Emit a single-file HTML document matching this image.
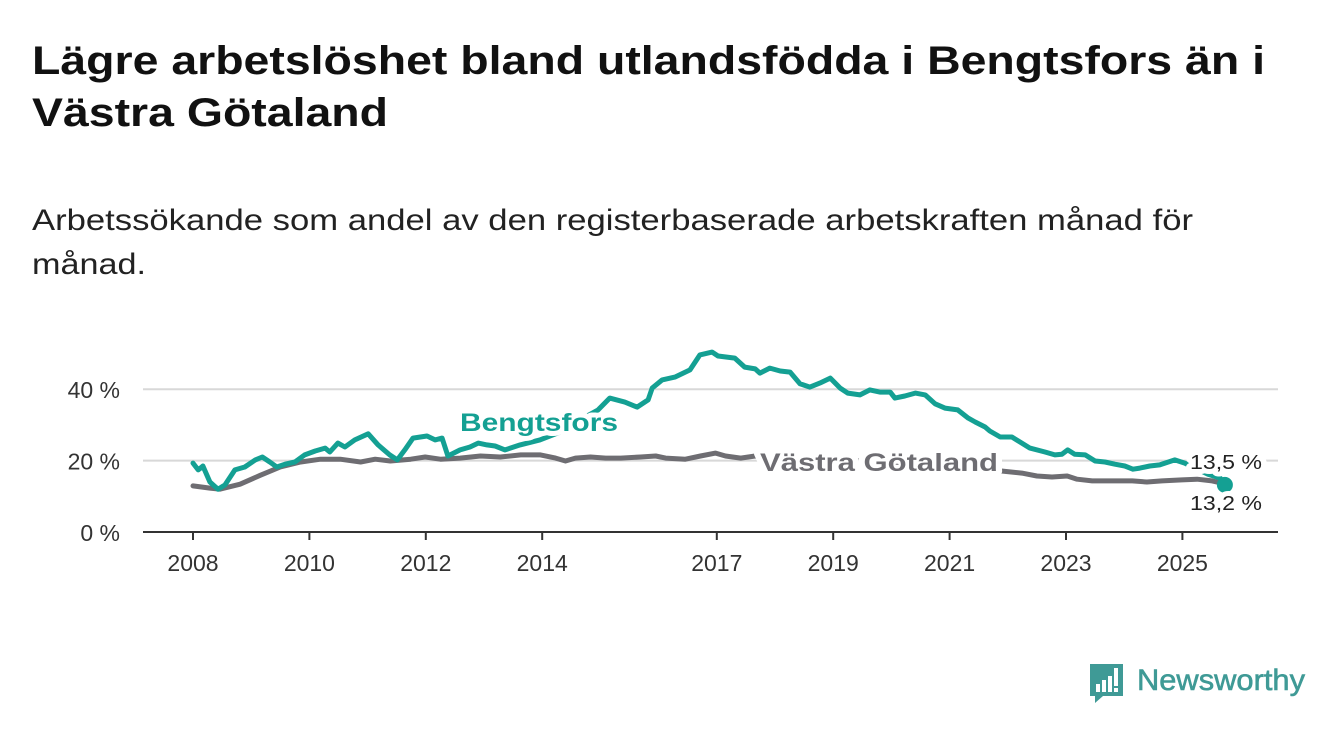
<!DOCTYPE html>
<html><head><meta charset="utf-8"><style>
html,body{margin:0;padding:0;background:#fff;}
svg{display:block;font-family:"Liberation Sans","DejaVu Sans",sans-serif;}
</style></head><body>
<svg id="chart" width="1340" height="734" viewBox="0 0 1340 734">
<text x="32" y="74" font-size="40" font-weight="bold" fill="#111" textLength="1233" lengthAdjust="spacingAndGlyphs">Lägre arbetslöshet bland utlandsfödda i Bengtsfors än i</text>
<text x="32" y="126" font-size="40" font-weight="bold" fill="#111" textLength="356" lengthAdjust="spacingAndGlyphs">Västra Götaland</text>
<text x="32" y="230" font-size="30" fill="#222" textLength="1161" lengthAdjust="spacingAndGlyphs">Arbetssökande som andel av den registerbaserade arbetskraften månad för</text>
<text x="32" y="274" font-size="30" fill="#222" textLength="114" lengthAdjust="spacingAndGlyphs">månad.</text>
<g id="grid"></g><g id="axes"></g><g id="series"></g><g id="labels"></g>
<g>
<path d="M1090 664 h33 v32 h-20 l-8 7 v-7 h-5 z" fill="#3f9a96"/>
<rect x="1096" y="684" width="4" height="8" fill="#fff"/><rect x="1102" y="680" width="4" height="12" fill="#fff"/><rect x="1108" y="676" width="4" height="16" fill="#fff"/><rect x="1114" y="668" width="4" height="18" fill="#fff"/><rect x="1114" y="688" width="4" height="4" fill="#fff"/>
<text x="1137" y="690" font-size="30" fill="#3f9a96" stroke="#3f9a96" stroke-width="0.6" textLength="168" lengthAdjust="spacingAndGlyphs">Newsworthy</text>
</g>
</svg>
<script>
const bDates=[2008.00,2008.09,2008.17,2008.29,2008.43,2008.55,2008.72,2008.89,2009.07,2009.19,2009.32,2009.44,2009.58,2009.75,2009.92,2010.10,2010.27,2010.35,2010.49,2010.61,2010.78,2011.01,2011.18,2011.38,2011.51,2011.64,2011.78,2012.02,2012.16,2012.28,2012.38,2012.59,2012.76,2012.90,2013.05,2013.19,2013.36,2013.62,2013.96,2014.31,2014.65,2014.96,2015.16,2015.42,2015.63,2015.82,2015.89,2016.06,2016.28,2016.54,2016.71,2016.92,2017.02,2017.31,2017.48,2017.66,2017.74,2017.91,2018.09,2018.26,2018.43,2018.60,2018.77,2018.95,2019.12,2019.25,2019.46,2019.63,2019.80,2019.98,2020.06,2020.23,2020.41,2020.58,2020.75,2020.92,2021.14,2021.32,2021.44,2021.61,2021.69,2021.87,2022.07,2022.21,2022.38,2022.64,2022.81,2022.93,2023.03,2023.15,2023.33,2023.50,2023.67,2023.84,2024.01,2024.15,2024.27,2024.44,2024.61,2024.87,2025.04,2025.22,2025.44,2025.65,2025.73];
const bengtsfors=[19.3,17.4,18.5,14.0,12.0,13.2,17.4,18.2,20.2,21.0,19.6,18.2,19.0,19.6,21.6,22.7,23.5,22.4,24.9,23.8,25.8,27.5,24.4,21.6,20.2,23.0,26.3,26.9,25.8,26.3,21.3,23.0,23.8,24.9,24.4,24.1,23.0,24.4,25.8,28.0,31.4,34.2,37.5,36.4,35.0,37.0,40.3,42.6,43.4,45.4,49.6,50.4,49.3,48.7,46.2,45.7,44.5,45.9,45.1,44.8,41.5,40.6,41.7,43.1,40.3,38.9,38.4,39.8,39.2,39.2,37.5,38.1,38.9,38.4,35.9,34.7,34.2,31.9,30.8,29.4,28.3,26.6,26.6,25.2,23.5,22.4,21.6,21.8,23.0,21.8,21.6,19.9,19.6,19.0,18.5,17.6,17.9,18.5,18.8,20.2,19.3,17.9,16.2,15.1,13.2];
const vDates=[2008.00,2008.29,2008.46,2008.81,2009.16,2009.50,2009.85,2010.19,2010.53,2010.88,2011.13,2011.39,2011.74,2011.99,2012.25,2012.59,2012.94,2013.28,2013.63,2013.97,2014.23,2014.40,2014.57,2014.83,2015.09,2015.35,2015.69,2015.95,2016.12,2016.46,2016.72,2016.98,2017.15,2017.41,2017.66,2018.10,2018.79,2019.48,2020.17,2021.03,2021.89,2022.24,2022.50,2022.76,2023.02,2023.19,2023.45,2023.79,2024.14,2024.39,2024.65,2024.99,2025.25,2025.51,2025.73];
const vastra=[12.9,12.3,12.0,13.4,15.9,18.2,19.6,20.4,20.4,19.6,20.4,19.9,20.4,21.0,20.4,20.7,21.3,21.0,21.6,21.6,20.7,19.9,20.7,21.0,20.7,20.7,21.0,21.3,20.7,20.4,21.3,22.1,21.3,20.7,21.3,21.0,20.4,19.9,19.0,18.2,17.1,16.5,15.7,15.4,15.7,14.8,14.3,14.3,14.3,14.0,14.3,14.6,14.8,14.3,13.5];
const xTicks=[2008,2010,2012,2014,2017,2019,2021,2023,2025];
const yTicks=[0,20,40];
const yTickLabels=["0 %","20 %","40 %"];
const endLabels=["13,5 %","13,2 %"];
const NS="http://www.w3.org/2000/svg";
const X=t=>193+(t-2008)*58.2, Y=v=>532-v*3.57;
function mk(tag,parent,attrs){const e=document.createElementNS(NS,tag);for(const k in attrs)e.setAttribute(k,attrs[k]);parent.appendChild(e);return e;}
const grid=document.getElementById('grid'),axes=document.getElementById('axes'),ser=document.getElementById('series'),lab=document.getElementById('labels');
yTicks.forEach((v,i)=>{
 if(v>0){const g=mk('line',grid,{x1:143,x2:1278,y1:Y(v),y2:Y(v),stroke:'#d8d8d8','stroke-width':2});
 
 }
 const t=mk('text',axes,{x:120,y:Y(v)+9,'font-size':23,fill:'#333','text-anchor':'end'});t.textContent=yTickLabels[i];
 
 
});
const ax=mk('line',axes,{x1:143,x2:1278,y1:532,y2:532,stroke:'#333','stroke-width':2});


xTicks.forEach(t=>{
 const tk=mk('line',axes,{x1:X(t),x2:X(t),y1:532,y2:540,stroke:'#333','stroke-width':2});
 
 
 const l=mk('text',axes,{x:X(t),y:571,'font-size':23,fill:'#333','text-anchor':'middle'});l.textContent=t;
 
 
});
function line(d,v,col,name){
 const p=mk('path',ser,{d:d.map((t,i)=>(i?'L':'M')+X(t).toFixed(1)+' '+Y(v[i]).toFixed(1)).join(''),fill:'none',stroke:col,'stroke-width':5,'stroke-linejoin':'round','stroke-linecap':'round'});
 
 
}
line(vDates,vastra,'#6e6d72','vastra-gotaland-line');
line(bDates,bengtsfors,'#14a093','bengtsfors-line');
const dot=mk('circle',ser,{cx:X(bDates[bDates.length-1]),cy:Y(bengtsfors[bengtsfors.length-1]),r:8,fill:'#14a093'});


function label(x,y,txt,col,name,size,w,bold){
 const t=mk('text',lab,{x:x,y:y,'font-size':size,fill:col,stroke:'#fff','stroke-width':10,'paint-order':'stroke','stroke-linejoin':'round','font-weight':bold?'bold':'normal',textLength:w,lengthAdjust:'spacingAndGlyphs'});t.textContent=txt;
 
 
}
label(460,431,'Bengtsfors','#14a093','bengtsfors-label',25,158,true);
label(760,471,'Västra Götaland','#6e6d72','vastra-gotaland-label',25,238,true);
label(1190,469,endLabels[0],'#222','end-label-vastra',20,72,false);
label(1190,510,endLabels[1],'#222','end-label-bengtsfors',20,72,false);
</script>
</body></html>
